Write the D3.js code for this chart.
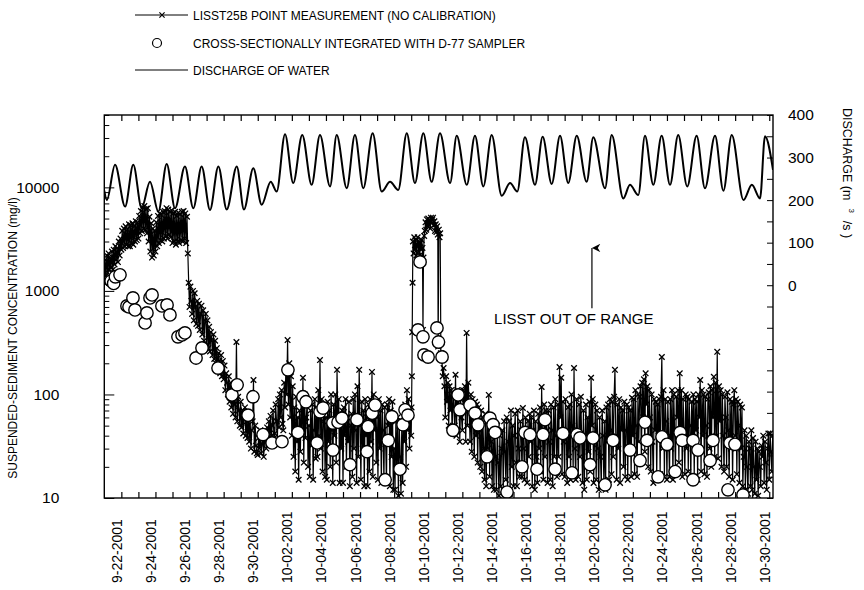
<!DOCTYPE html>
<html><head><meta charset="utf-8">
<script src="https://cdn.jsdelivr.net/npm/d3@7"></script>
<style>
body{margin:0;background:#fff}
text{font-family:"Liberation Sans",Arial,Helvetica,sans-serif;fill:#000}
</style>
</head><body>
<svg id="chart" width="864" height="590"></svg>
<script>
// ---------------- DATA (time = days since 9-21-2001 00:00) ----------------
const dateLabels = ["9-22-2001","9-24-2001","9-26-2001","9-28-2001","9-30-2001",
  "10-02-2001","10-04-2001","10-06-2001","10-08-2001","10-10-2001","10-12-2001",
  "10-14-2001","10-16-2001","10-18-2001","10-20-2001","10-22-2001","10-24-2001",
  "10-26-2001","10-28-2001","10-30-2001"];
const concTicks = [10, 100, 1000, 10000];
const dischargeTicks = [0, 100, 200, 300, 400];

// LISST25B point measurements (mg/l), first stretch: every 0.05 day from day 0.0
const lisstStartA = 0.0, lisstStep = 0.05;
const lisstA = [
 1200,2000,1400,2200,1500,2300,1600,2100,1700,2400,
 1600,2500,1800,2700,2000,2600,1900,3000,2200,3200,
 2500,3800,2600,4000,2700,4200,2800,3900,2700,4400,
 2700,4300,2900,4500,2800,4200,3000,4700,3100,4600,
 3200,5300,3600,5900,3800,6400,4000,6600,3900,6200,
 3600,6300,3000,5200,2400,4500,2100,4000,2200,3800,
 2400,4600,2700,5300,2900,5600,3100,5400,3000,5800,
 3200,5900,3400,6300,3200,6100,3500,5800,3300,6000,
 2900,5600,3000,5800,2800,5300,3000,5700,2900,5500,
 3100,5800,3000,5900,3200,5600,2900,5200,2300,1200,
 700,1100,800,600,1000,520,950,700,480,800,
 460,750,420,600,720,380,650,330,520,600,
 300,520,280,450,260,400,330,240,380,220,
 330,200,280,170,250,210,160,240,150,210,
 140,190,110,160,130,100,150,85,130,75,
 120,65,100,80,60,321,55,95,70,50,
 85,48,70,42,60,75,40,55,38,65,
 35,60,30,45,55,138,28,50,32,27,
 26,38,30,45,27,33,42,25,36,40,
 30,48,36,55,33,62,40,50,70,38,
 42,80,55,36,90,48,100,60,110,52,
 45,130,75,180,100,335,80,200,60,150,
 40,120,25,75,18,95,35,60,15,70,
 28,90,45,145,22,100,38,60,85,20,
 50,16,70,32,80,15,45,90,24,75,
 25,110,40,215,30,90,18,55,80,16,
 60,15,85,35,70,20,100,45,14,80,
 40,100,22,173,55,90,14,65,30,70,
 14,75,40,90,20,60,35,85,13,50,
 65,16,90,30,100,45,14,120,25,173,
 50,15,85,30,70,13,90,40,60,13,
 80,18,90,35,165,16,100,45,75,22,
 60,15,90,30,70,14,80,45,15,75,
 35,14,80,50,90,13,70,25,85,12,
 30,12,55,20,60,10.5,50,25,11,55,
 14,70,35,80,20,110,45,90,30,70
];
// high-concentration event of 10-09 / 10-10 (irregular times)
const lisstEventT = [18.00,18.02,18.04,18.06,18.08,18.10,18.14,18.18,18.22,18.26,18.30,18.34,18.38,18.42,
  18.46,18.50,18.54,18.58,18.62,18.66,18.69,18.72,18.76,18.80,18.84,18.88,18.92,18.96,19.00,19.04,
  19.08,19.12,19.16,19.20,19.24,19.28,19.32,19.36,19.40,19.44,19.48,19.52,19.56,19.58,19.62,19.66,19.70,19.74];
const lisstEventC = [40,75,150,400,1200,3000,2300,3300,2500,3100,2200,2800,3300,2400,
  3000,2200,2900,2500,3100,2600,420,2100,3400,3800,4600,3900,4900,4200,5000,4300,
  4800,4000,5100,4500,4900,5100,4300,4700,3800,4400,3700,4200,3500,290,3900,3300,3600,250];
// second stretch: every 0.05 day from day 19.8
const lisstStartC = 19.8;
const lisstC = [
 220,150,180,120,
 60,150,85,130,50,120,70,110,45,100,
 75,50,155,40,110,65,100,35,90,60,
 45,110,70,120,35,393,50,130,80,35,
 100,28,90,55,25,85,40,80,22,75,
 45,20,70,18,60,30,15,65,13,55,
 30,99,16,60,35,13,50,12,45,25,
 12,50,22,10.5,40,13,30,45,12,55,
 28,15,60,12,35,55,11,70,20,50,
 13,40,65,22,13,70,30,16,55,45,
 16,74,30,15,60,40,14,55,25,65,
 35,60,13,45,70,12,55,25,14,65,
 30,75,18,118,40,15,80,25,70,45,
 14,70,35,15,80,45,13,75,25,90,
 40,16,80,25,184,60,145,17,85,35,
 16,90,40,14,75,25,80,15,100,50,
 18,180,30,15,90,45,16,80,25,95,
 35,14,70,12,40,80,15,60,28,85,
 18,145,50,90,14,35,80,15,70,30,
 12,60,25,13,70,40,14,55,12,75,
 35,80,15,90,45,17,85,25,95,173,
 40,15,80,30,90,14,75,45,70,20,
 85,16,45,80,15,75,30,70,16,93,
 40,90,17,110,50,16,100,35,95,120,
 22,130,60,140,28,160,80,120,20,110,
 60,18,100,35,14,90,45,85,16,80,
 40,90,17,95,230,30,110,16,90,55,
 15,85,40,16,90,30,110,15,100,45,
 18,95,60,110,22,160,40,110,16,90,
 45,17,100,30,95,18,90,50,15,85,
 35,100,16,90,45,85,15,100,60,138,
 18,110,40,100,17,95,50,16,90,105,
 30,120,20,110,60,148,25,130,40,258,
 24,120,55,110,20,100,40,18,95,60,
 20,105,45,16,90,30,85,15,80,110,
 40,90,17,85,50,14,80,30,75,13,
 25,45,12,40,20,11,35,30,13,45,
 12,38,20,11,35,15,30,10.5,28,20,
 13,32,25,40,14,35,22,12,30,42,
 15,42,28,18,40
];

// Cross-sectionally integrated D-77 samples (mg/l)
const sampleT = [0.40,0.55,0.65,0.92,1.33,1.45,1.68,1.80,2.39,2.50,2.68,2.80,3.38,3.68,3.85,
  4.32,4.56,4.73,5.38,5.73,6.67,7.49,7.79,8.43,8.72,9.31,9.84,10.42,10.77,11.36,11.65,11.83,
  12.48,12.65,12.83,13.41,13.41,13.71,13.94,14.41,14.82,15.41,15.47,15.71,15.88,16.47,16.65,16.87,
  17.34,17.52,17.64,17.81,18.40,18.52,18.69,18.75,18.99,19.51,19.60,19.81,
  20.45,20.75,20.86,21.45,21.74,21.92,22.45,22.62,22.80,22.92,23.62,24.50,24.68,24.97,25.38,25.73,25.85,
  26.44,26.90,27.43,27.73,27.90,28.49,28.66,29.37,29.84,30.83,31.42,31.71,31.83,
  32.48,32.71,33.01,33.48,33.77,33.89,34.53,34.53,34.82,35.53,35.70,36.58,36.70,36.99,37.46];
const sampleC = [1250,1180,1370,1430,716,700,855,655,491,613,855,914,716,732,586,
  360,376,393,225,281,180,99,124,63,95,41,34,35,173,43,95,85,
  34,68,74,53,29,54,59,21,57,28,49,66,79,15,36,61,
  19,51,71,63,420,1905,360,241,230,439,321,230,
  45,99,71,79,66,51,25,59,51,43,11.4,20,43,41,19,41,57,
  19,42,17.5,41,38,21,38,13.4,36,29,23,54,36,
  16,39,33,18,43,36,36,15,29,23,36,12,34,33,10.7];

// Discharge of water (m3/s): daily highs and lows
const qT = [0.00,0.15,0.63,1.22,1.70,2.19,2.68,3.17,3.66,4.15,4.73,5.22,5.71,6.20,6.69,7.18,7.77,8.19,8.74,
  9.23,9.76,10.11,10.60,11.08,11.61,12.16,12.65,13.24,13.63,14.22,14.70,15.19,15.74,16.27,16.76,17.24,
  17.74,18.22,18.71,19.20,19.69,20.28,20.67,21.26,21.74,22.23,22.72,23.31,23.80,24.22,24.67,25.26,25.71,
  26.24,26.73,27.21,27.71,28.29,28.68,29.37,29.76,30.44,30.83,31.32,31.71,32.20,32.69,33.18,33.66,34.19,
  34.74,35.23,35.82,36.31,36.80,37.49,37.98,38.46,38.75,39.22];
const qV = [222,200,283,185,283,181,243,173,285,181,279,181,279,177,279,178,279,178,275,
  189,243,220,355,240,353,236,353,232,353,228,353,228,357,220,243,224,
  357,240,357,243,357,240,351,236,351,232,353,210,240,220,348,236,349,
  238,351,240,351,243,348,228,353,204,236,212,351,236,351,236,353,232,
  351,228,351,222,353,200,236,204,350,271];

// ---------------- CHART ----------------
const svg = d3.select("#chart");
const L = 104.3, R = 773, T = 115, B = 498;
const x = d3.scaleLinear().domain([0, 39.22]).range([L, R]);
const yC = d3.scaleLog().domain([10, 50000]).range([B, T]);
const yQ = d3.scaleLinear().domain([-500, 400]).range([B, T]);
const FONT = "'Liberation Sans',Arial,sans-serif";

const dayOf = s => {
  const [mo, da, yr] = s.split("-").map(Number);
  return (Date.UTC(yr, mo - 1, da) - Date.UTC(2001, 8, 21)) / 864e5;
};

svg.append("clipPath").attr("id", "plot").append("rect")
  .attr("x", L).attr("y", T).attr("width", R - L).attr("height", B - T);

// discharge line
const qData = qT.map((t, i) => [t, qV[i]]);
svg.append("path").datum(qData)
  .attr("clip-path", "url(#plot)")
  .attr("fill", "none").attr("stroke", "#000").attr("stroke-width", 2)
  .attr("d", d3.line().x(d => x(d[0])).y(d => yQ(d[1])).curve(d3.curveMonotoneX));

// LISST series
const lisst = [];
lisstA.forEach((v, i) => lisst.push([lisstStartA + i * lisstStep, v]));
lisstEventT.forEach((t, i) => lisst.push([t, lisstEventC[i]]));
lisstC.forEach((v, i) => lisst.push([lisstStartC + i * lisstStep, v]));

const gL = svg.append("g").attr("clip-path", "url(#plot)");
gL.append("path").datum(lisst)
  .attr("fill", "none").attr("stroke", "#000").attr("stroke-width", 1.2)
  .attr("d", d3.line().x(d => x(d[0])).y(d => yC(d[1])));
const xm = "M-2.8,-2.8L2.8,2.8M-2.8,2.8L2.8,-2.8";
gL.selectAll("path.m").data(lisst).join("path").attr("class", "m")
  .attr("transform", d => `translate(${x(d[0])},${yC(d[1])})`)
  .attr("d", xm).attr("stroke", "#000").attr("stroke-width", 1.3).attr("fill", "none");

// D-77 samples
gL.selectAll("circle").data(sampleT.map((t, i) => [t, sampleC[i]])).join("circle")
  .attr("cx", d => x(d[0])).attr("cy", d => yC(d[1])).attr("r", 6.2)
  .attr("fill", "#fff").attr("stroke", "#000").attr("stroke-width", 1.4);

// axes
const days = d3.range(1, 40);
svg.append("g").attr("transform", `translate(0,${B})`)
  .call(d3.axisBottom(x).tickValues(days).tickSize(-6).tickSizeOuter(0).tickFormat(""))
  .call(g => g.select(".domain").remove())
  .call(g => g.selectAll("line").attr("stroke-width", 1.2));
svg.append("g").attr("transform", `translate(0,${T})`)
  .call(d3.axisTop(x).tickValues(days).tickSize(-6).tickSizeOuter(0).tickFormat(""))
  .call(g => g.select(".domain").remove())
  .call(g => g.selectAll("line").attr("stroke-width", 1.2));

const minor = [];
[10, 100, 1000, 10000].forEach(p => { for (let k = 2; k <= 9; k++) if (p * k <= 50000) minor.push(p * k); });
svg.append("g").attr("transform", `translate(${L},0)`)
  .call(d3.axisLeft(yC).tickValues(minor).tickSize(-5).tickSizeOuter(0).tickFormat(""))
  .call(g => g.select(".domain").remove());
svg.append("g").attr("transform", `translate(${L},0)`)
  .call(d3.axisLeft(yC).tickValues(concTicks).tickSize(-10).tickSizeOuter(0).tickPadding(45).tickFormat(d3.format("d")))
  .call(g => g.select(".domain").remove())
  .call(g => g.selectAll("text").style("font-size", "15.5px").style("font-family", FONT));

svg.append("g").attr("transform", `translate(${R},0)`)
  .call(d3.axisRight(yQ).tickValues(d3.range(-500, 401, 50)).tickSize(-6).tickSizeOuter(0).tickPadding(15)
    .tickFormat(d => dischargeTicks.includes(d) ? d : ""))
  .call(g => g.select(".domain").remove())
  .call(g => g.selectAll("text").style("font-size", "15.5px").style("font-family", FONT));

// frame
svg.append("rect").attr("x", L).attr("y", T).attr("width", R - L).attr("height", B - T)
  .attr("fill", "none").attr("stroke", "#000").attr("stroke-width", 1.4);

// date labels
svg.append("g").selectAll("text").data(dateLabels).join("text")
  .attr("transform", d => `translate(${x(dayOf(d)) + 0.5},583) rotate(-90)`)
  .attr("text-anchor", "start").style("font-size", "14px").text(d => d);

// axis titles
svg.append("text").attr("transform", "translate(17,338) rotate(-90)")
  .attr("text-anchor", "middle").style("font-size", "12px")
  .text("SUSPENDED-SEDIMENT CONCENTRATION (mg/l)");
const rt = svg.append("text").attr("transform", "translate(843,108) rotate(90)")
  .attr("text-anchor", "start").style("font-size", "12.5px");
rt.append("tspan").text("DISCHARGE (m");
rt.append("tspan").attr("dx", 8).attr("dy", -6).style("font-size", "8px").text("3");
rt.append("tspan").attr("dx", 8).attr("dy", 6).text("/s   )");

// annotation
const ax = x(28.6);
svg.append("defs").append("marker").attr("id", "ah").attr("viewBox", "0 0 10 10")
  .attr("refX", 5).attr("refY", 0).attr("markerWidth", 7).attr("markerHeight", 9)
  .attr("orient", "auto-start-reverse")
  .append("path").attr("d", "M0,10L5,0L10,10L5,7Z").attr("fill", "#000");
svg.append("line").attr("x1", ax).attr("x2", ax).attr("y1", yC(680)).attr("y2", yC(2600))
  .attr("stroke", "#000").attr("stroke-width", 1.2).attr("marker-end", "url(#ah)");
svg.append("text").attr("x", x(22.86)).attr("y", yC(480)).style("font-size", "15px")
  .text("LISST OUT OF RANGE");

// legend
const lg = svg.append("g");
lg.append("line").attr("x1", 135).attr("x2", 188).attr("y1", 15).attr("y2", 15).attr("stroke", "#000").attr("stroke-width", 1);
lg.append("path").attr("transform", "translate(162,15)").attr("d", "M-2.6,-2.6L2.6,2.6M-2.6,2.6L2.6,-2.6").attr("stroke", "#000").attr("stroke-width", 1.2);
lg.append("text").attr("x", 193).attr("y", 19.5).style("font-size", "12px").text("LISST25B POINT MEASUREMENT (NO CALIBRATION)");
lg.append("circle").attr("cx", 157).attr("cy", 43).attr("r", 4.5).attr("fill", "#fff").attr("stroke", "#000").attr("stroke-width", 1.2);
lg.append("text").attr("x", 193).attr("y", 47.5).style("font-size", "12px").text("CROSS-SECTIONALLY INTEGRATED WITH D-77 SAMPLER");
lg.append("line").attr("x1", 135).attr("x2", 188).attr("y1", 70).attr("y2", 70).attr("stroke", "#000").attr("stroke-width", 1);
lg.append("text").attr("x", 193).attr("y", 74.5).style("font-size", "12px").text("DISCHARGE OF WATER");
</script>
</body></html>
